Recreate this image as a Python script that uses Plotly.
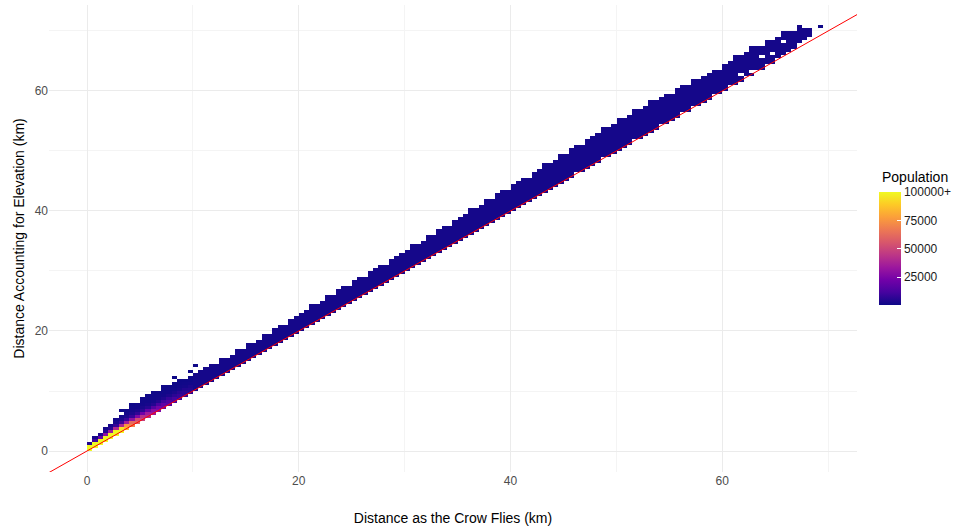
import plotly.graph_objects as go

# ---------------- data ----------------
bin_width = 0.5          # km, both axes
n_cols = 139             # x bins: 0 .. 69.5 km
n_rows = 146             # y bins

# population per cell near the origin, columns 0..19, listed bottom (y=x) upward
origin_counts = [
    [100000, 100000, 4000],
    [100000, 100000, 10000, 2000],
    [100000, 100000, 20000, 3000],
    [100000, 100000, 30000, 4000, 1500],
    [100000, 100000, 35000, 5000, 2000],
    [100000, 100000, 40000, 8000, 2500, 1200],
    [100000, 95000, 40000, 9000, 3000, 1500],
    [85000, 75000, 35000, 9000, 3000, 1500, 1000],
    [70000, 62000, 30000, 8000, 3000, 1500, 1000],
    [60000, 52000, 26000, 7000, 2500, 1200, 900],
    [48000, 42000, 22000, 6000, 2500, 1200, 900, 700],
    [40000, 35000, 18000, 5000, 2000, 1000, 800, 600],
    [33000, 28000, 15000, 4500, 1800, 1000, 700, 600],
    [27000, 23000, 12000, 4000, 1500, 900, 600],
    [21000, 18000, 10000, 3500, 1300, 800, 600],
    [16000, 14000, 8000, 3000, 1200, 700, 500],
    [12000, 11000, 6000, 2500, 1000, 600, 500],
    [9000, 8000, 5000, 2000, 900, 500, 400],
    [7000, 6000, 4000, 1500, 800, 400],
    [5000, 4500, 3000, 1200, 600, 400],
]

# number of filled rows per column (columns 20..138), counted up from the y=x cell
band_rows = [
    6, 6, 6, 6, 5, 6, 5, 5, 6, 5, 6, 5, 5, 6, 5, 6, 6, 5, 6, 6,
    6, 6, 7, 6, 6, 7, 6, 7, 7, 6, 7, 7, 6, 7, 7, 7, 6, 7, 7, 7,
    7, 8, 7, 7, 8, 7, 8, 8, 7, 8, 8, 8, 9, 8, 8, 9, 8, 9, 9, 8,
    9, 9, 9, 8, 9, 9, 10, 9, 9, 10, 9, 10, 10, 9, 10, 10, 10, 11, 10, 10,
    11, 10, 10, 11, 10, 10, 11, 10, 10, 10, 9, 10, 10, 9, 10, 9, 9, 9, 9, 8,
    9, 9, 10, 9, 9, 10, 9, 8, 9, 8, 8, 9, 8, 7, 8, 6, 5, 0, 0,
]
far_count = 1500          # dark-blue population level along the rest of the band

# columns whose lowest filled cell sits above the y=x cell: column -> rows skipped
bottom_skip = {92: 1, 97: 1, 103: 1, 108: 1, 112: 1, 114: 1, 118: 1, 121: 1,
               124: 1, 126: 1, 128: 1, 130: 1, 131: 1, 132: 1, 133: 1,
               134: 2, 135: 2, 136: 2}
# empty cells inside the band: (column, row above y=x cell)
hole_cells = [(123, 2), (127, 4), (129, 3), (131, 5), (125, 1)]
# isolated cells away from the band: (x km, y km)
outlier_x = [3.2, 4.2, 7.4, 7.9, 8.2, 9.7, 10.2, 69.1]
outlier_y = [6.7, 7.8, 10.8, 10.8, 12.3, 13.2, 14.3, 70.8]
outlier_count = 300

# reference line y = x
line_x = [-10, 80]
line_y = [-10, 80]

# colour bar ticks
cb_tickvals = [25000, 50000, 75000, 100000]
cb_ticktext = ["25000", "50000", "75000", "100000+"]

# ---------------- build grid ----------------
z = [[None] * n_cols for _ in range(n_rows)]
for i, counts in enumerate(origin_counts):
    for k, c in enumerate(counts):
        z[i + k][i] = c
for idx, rows in enumerate(band_rows):
    i = idx + len(origin_counts)
    for k in range(bottom_skip.get(i, 0), rows):
        z[i + k][i] = far_count
for i, k in hole_cells:
    z[i + k][i] = None
for ox, oy in zip(outlier_x, outlier_y):
    z[int(oy / bin_width)][int(ox / bin_width)] = outlier_count

x_centers = [bin_width * (i + 0.5) for i in range(n_cols)]
y_centers = [bin_width * (j + 0.5) for j in range(n_rows)]

FONT = "Liberation Sans, Arial, sans-serif"

fig = go.Figure()
fig.add_trace(go.Heatmap(
    x=x_centers, y=y_centers, z=z,
    colorscale="Plasma", zmin=0, zmax=100000,
    hoverongaps=False,
    colorbar=dict(
        tickvals=cb_tickvals, ticktext=cb_ticktext,
        tickfont=dict(size=12, color="#1a1a1a", family=FONT),
        ticks="inside", ticklen=4, tickcolor="white", tickwidth=1,
        outlinewidth=0,
        thickness=22, thicknessmode="pixels",
        len=113, lenmode="pixels",
        x=1.027, xanchor="left",
        y=0.478, yanchor="middle",
        xpad=0, ypad=0,
    ),
))
fig.add_trace(go.Scatter(
    x=line_x, y=line_y, mode="lines",
    line=dict(color="#ff0000", width=1),
    showlegend=False, hoverinfo="skip",
))

axis_common = dict(
    showline=False, zeroline=False, ticks="", automargin=False,
    showgrid=True, gridcolor="#ebebeb", gridwidth=1,
    tickfont=dict(size=12, color="#4d4d4d", family=FONT),
    minor=dict(dtick=10, showgrid=True, gridcolor="#f4f4f4", gridwidth=1),
)

fig.update_layout(
    width=960, height=531,
    margin=dict(l=49, r=103, t=5, b=59, autoexpand=False),
    plot_bgcolor="white", paper_bgcolor="white",
    showlegend=False,
    font=dict(family=FONT),
    xaxis=dict(
        range=[-3.59, 72.73], tickvals=[0, 20, 40, 60],
        title=dict(text="Distance as the Crow Flies (km)", standoff=26,
                   font=dict(size=14, color="#000000", family=FONT)),
        **axis_common,
    ),
    yaxis=dict(
        range=[-3.5, 74.33], tickvals=[0, 20, 40, 60],
        title=dict(text="Distance Accounting for Elevation (km)", standoff=6,
                   font=dict(size=14, color="#000000", family=FONT)),
        **axis_common,
    ),
    annotations=[dict(
        text="Population", xref="paper", yref="paper",
        x=(880 - 49) / 808, y=(472 - 177) / 467,
        xanchor="left", yanchor="middle", showarrow=False,
        font=dict(size=14, color="#000000", family=FONT),
    )],
)

fig.write_html("out.html", config={"displayModeBar": False},
               post_script="document.body.style.margin='0';document.body.style.overflow='hidden';")
